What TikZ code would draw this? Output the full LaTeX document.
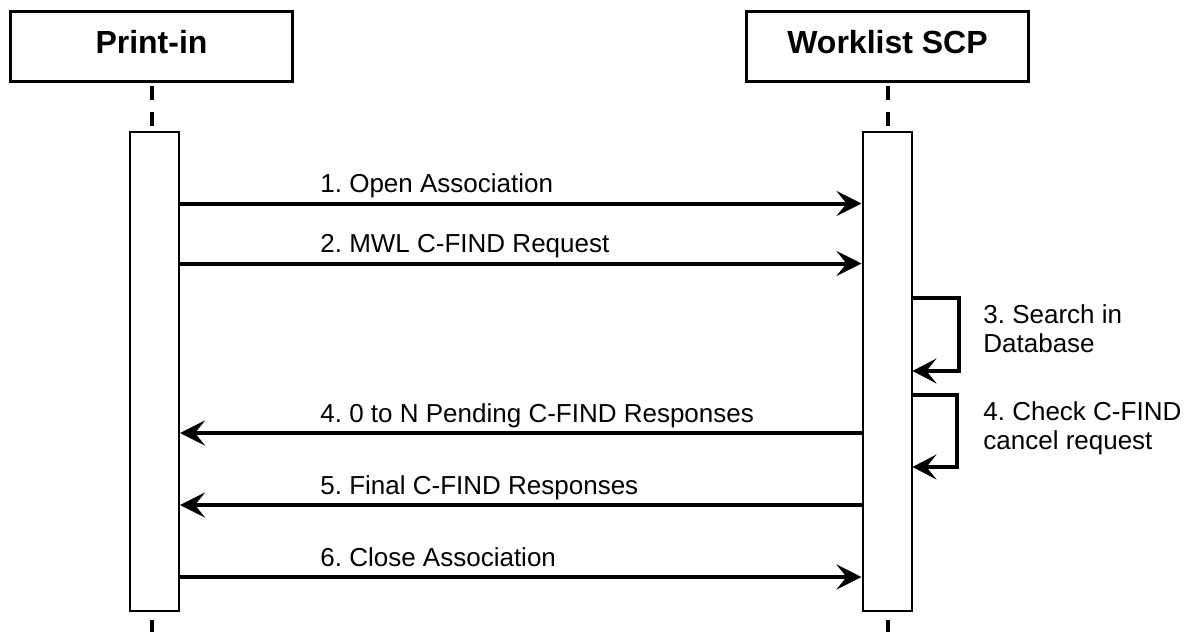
\documentclass[tikz,border=0pt]{standalone}
\usepackage{fontspec}
\setmainfont{Liberation Sans}
\usetikzlibrary{arrows.meta}
\frenchspacing

\begin{document}
\begin{tikzpicture}[x=0.5pt,y=-0.5pt,
    actor/.style={rectangle,draw,line width=1.5pt,minimum width=141pt,
      minimum height=35pt,text depth=5pt,font=\bfseries\fontsize{16}{18}\selectfont},
    activation/.style={rectangle,draw,fill=white,line width=1pt,
      minimum width=24.5pt,minimum height=239.5pt},
    lifeline/.style={line width=2pt,dash pattern=on 7pt off 6pt},
    msg/.style={line width=2pt,-{Stealth[length=12.5pt,width=12.5pt,inset=5pt]}},
    selfmsg/.style={line width=1.6pt,-{Stealth[length=12pt,width=12.5pt,inset=5pt]}},
    msglabel/.style={anchor=base west,inner sep=0pt,font=\fontsize{13}{15}\selectfont},
    note/.style={anchor=west,inner sep=0pt,align=left,font=\fontsize{13}{14.5}\selectfont}
    ]
\useasboundingbox (0,0) rectangle (1194,632);

% participants
\node[actor] (PI) at (151.5,46.5) {Print-in};
\node[actor] (WL) at (887.5,46.5) {Worklist SCP};
\node[activation] (actL) at (154.5,371.5) {};
\node[activation] (actR) at (887,371.5) {};
\coordinate (bot) at (0,632);

% lifelines
\draw[lifeline,dash phase=11.5pt] (PI.south) -- (PI.south |- actL.north);
\draw[lifeline,dash phase=11.5pt] (WL.south) -- (WL.south |- actR.north);
\draw[lifeline,dash phase=9pt] (PI.south |- actL.south) -- (PI.south |- bot);
\draw[lifeline,dash phase=9pt] (WL.south |- actR.south) -- (WL.south |- bot);

% messages
\coordinate (m1) at (0,203.5);
\coordinate (m2) at (0,263.5);
\coordinate (m4) at (0,433);
\coordinate (m5) at (0,505);
\coordinate (m6) at (0,577);
\draw[msg] (actL.east |- m1) -- (actR.west |- m1);
\draw[msg] (actL.east |- m2) -- (actR.west |- m2);
\draw[msg] (actR.west |- m4) -- (actL.east |- m4);
\draw[msg] (actR.west |- m5) -- (actL.east |- m5);
\draw[msg] (actL.east |- m6) -- (actR.west |- m6);
\node[msglabel] (t1) at (320,192.5) {1. Open Association};
\node[msglabel] (t2) at (320,252.5) {2. MWL C-FIND Request};
\node[msglabel] (t4) at (320,422) {4. 0 to N Pending C-FIND Responses};
\node[msglabel] (t5) at (320,494) {5. Final C-FIND Responses};
\node[msglabel] (t6) at (320,566) {6. Close Association};

% self messages
\coordinate (s3top) at (959,298);
\coordinate (s3bot) at (959,371);
\coordinate (s4top) at (957,395);
\coordinate (s4bot) at (957,467);
\draw[selfmsg] (actR.east |- s3top) -- (s3top) -- (s3bot) -- (actR.east |- s3bot);
\draw[selfmsg] (actR.east |- s4top) -- (s4top) -- (s4bot) -- (actR.east |- s4bot);
\node[note] (n3) at (983,329) {3. Search in\\Database};
\node[note] (n4) at (983,428.5) {4. Check C-FIND\\cancel request};
\end{tikzpicture}
\end{document}
